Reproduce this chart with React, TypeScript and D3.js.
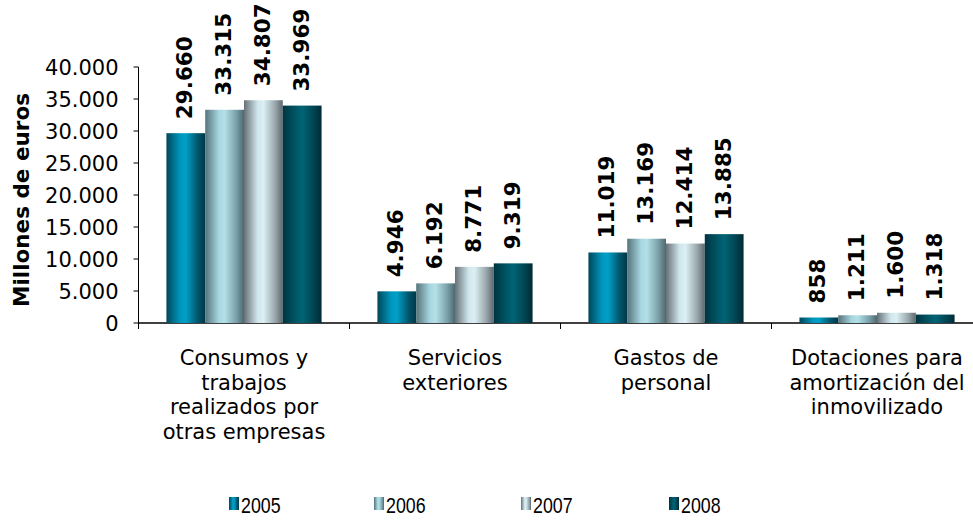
import React from "react";
import * as d3 from "d3";

const categories = [
  ["Consumos y", "trabajos", "realizados por", "otras empresas"],
  ["Servicios", "exteriores"],
  ["Gastos de", "personal"],
  ["Dotaciones para", "amortización del", "inmovilizado"],
];
const seriesNames = ["2005", "2006", "2007", "2008"];
const values2005 = [29660, 4946, 11019, 858];
const values2006 = [33315, 6192, 13169, 1211];
const values2007 = [34807, 8771, 12414, 1600];
const values2008 = [33969, 9319, 13885, 1318];
const yTicks = [0, 5000, 10000, 15000, 20000, 25000, 30000, 35000, 40000];

const seriesValues = [values2005, values2006, values2007, values2008];
const gradients = [
  ["#00475a", "#0096bd", "#00a0c8", "#00566c", "#003848"],
  ["#56737b", "#a6d6e0", "#b4e0e8", "#7aa0a8", "#4e6870"],
  ["#667076", "#cfe6ec", "#dcf0f4", "#9aa8ad", "#5e686d"],
  ["#003440", "#005868", "#006474", "#004452", "#002a34"],
];

const fmt = (v: number) => d3.format(",")(v).replace(/,/g, ".");

export default function App() {
  const W = 973, H = 520;
  const left = 138.5, right = 982.5, top = 67, bottom = 323;
  const x0 = d3.scaleBand<number>().domain(d3.range(categories.length)).range([left, right]).paddingInner(0).paddingOuter(0);
  const x1 = d3.scaleBand<number>().domain(d3.range(seriesNames.length)).range([0, x0.bandwidth()]).paddingOuter(0.72).paddingInner(0);
  const y = d3.scaleLinear().domain([0, 40000]).range([bottom, top]);
  const font = "Verdana, 'DejaVu Sans', sans-serif";
  const fs = 21;
  const legendX = [229, 374, 521, 669];

  return (
    <svg width={W} height={H} style={{ position: "absolute", left: 0, top: 0, background: "#fff" }}>
      <defs>
        {gradients.map((g, i) => (
          <linearGradient key={i} id={`g${i}`} x1="0" x2="1" y1="0" y2="0">
            <stop offset="0" stopColor={g[0]} />
            <stop offset="0.35" stopColor={g[1]} />
            <stop offset="0.5" stopColor={g[2]} />
            <stop offset="0.8" stopColor={g[3]} />
            <stop offset="1" stopColor={g[4]} />
          </linearGradient>
        ))}
      </defs>
      {/* axes */}
      <line x1={left} x2={left} y1={top} y2={bottom} stroke="#000" strokeWidth={1} />
      <line x1={left} x2={W} y1={bottom} y2={bottom} stroke="#000" strokeWidth={1.5} />
      {yTicks.map((t) => (
        <g key={t}>
          <line x1={left - 5} x2={left} y1={y(t)} y2={y(t)} stroke="#000" />
          <text x={left - 20} y={y(t)} dy="0.36em" textAnchor="end" fontFamily={font} fontSize={fs} fill="#000">
            {fmt(t)}
          </text>
        </g>
      ))}
      {d3.range(categories.length).map((i) => (
        <line key={i} x1={x0(i)!} x2={x0(i)!} y1={bottom} y2={bottom + 6} stroke="#000" />
      ))}
      <text transform={`translate(29,200) rotate(-90)`} textAnchor="middle" fontFamily={font} fontSize={21.5} fontWeight="bold">
        Millones de euros
      </text>
      {/* bars */}
      {categories.map((c, ci) => (
        <g key={ci} transform={`translate(${x0(ci)},0)`}>
          {seriesValues.map((vals, si) => {
            const v = vals[ci];
            const bx = x1(si)!;
            const bw = x1.bandwidth();
            return (
              <g key={si}>
                <rect x={bx} y={y(v)} width={bw} height={bottom - y(v)} fill={`url(#g${si})`} />
                <text
                  transform={`translate(${bx + bw / 2},${y(v) - 14}) rotate(-90)`}
                  dy="0.3em"
                  fontFamily={font}
                  fontSize={21.5}
                  fontWeight="bold"
                  fill="#000"
                >
                  {fmt(v)}
                </text>
              </g>
            );
          })}
          <text textAnchor="middle" fontFamily={font} fontSize={fs} fill="#000">
            {c.map((line, li) => (
              <tspan key={li} x={x0.bandwidth() / 2} y={365 + li * 24.5}>
                {line}
              </tspan>
            ))}
          </text>
        </g>
      ))}
      {/* legend */}
      {seriesNames.map((s, i) => (
        <g key={s}>
          <rect x={legendX[i]} y={497} width={10} height={13} fill={`url(#g${i})`} />
          <text transform={`translate(${legendX[i] + 12},513) scale(0.79,1)`} fontFamily="'Liberation Sans', sans-serif" fontSize={22.5} fill="#000">
            {s}
          </text>
        </g>
      ))}
    </svg>
  );
}
